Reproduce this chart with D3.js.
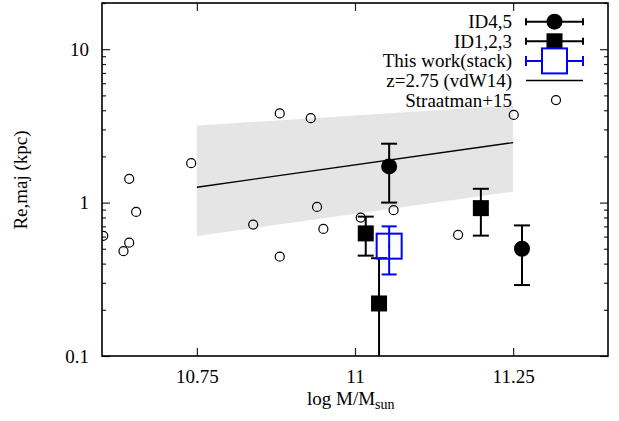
<!DOCTYPE html>
<html>
<head>
<meta charset="utf-8">
<script src="https://cdn.jsdelivr.net/npm/d3@7"></script>
<style>
  html, body { margin: 0; padding: 0; background: #fff; }
  svg { display: block; }
  text { font-family: "Liberation Serif", "Times New Roman", "DejaVu Serif", serif; fill: #000; }
</style>
</head>
<body>
<svg id="chart" width="619" height="421"></svg>
<script>
// Straatman+15 compact galaxies (log stellar mass, Re along the major axis in kpc)
const straatmanMass = [10.602, 10.634, 10.643, 10.654, 10.643, 10.741, 10.839, 10.881, 10.881, 10.930, 10.940, 10.950, 11.009, 11.061, 11.163, 11.251];
const straatmanRe   = [0.607, 0.482, 0.548, 0.869, 1.428, 1.807, 0.719, 3.81, 0.444, 3.55, 0.937, 0.673, 0.799, 0.892, 0.616, 3.73];

// ID4,5 (filled circles) with upper / lower error limits
const id45Mass = [11.054, 11.264];
const id45Re   = [1.72, 0.50];
const id45Hi   = [2.42, 0.71];
const id45Lo   = [1.00, 0.29];

// ID1,2,3 (filled squares)
const id123Mass = [11.017, 11.038, 11.199];
const id123Re   = [0.63, 0.22, 0.92];
const id123Hi   = [0.81, 0.434, 1.23];
const id123Lo   = [0.451, 0.05, 0.609];

// Stacked measurement
const stackMass = [11.054];
const stackRe   = [0.52];
const stackHi   = [0.70];
const stackLo   = [0.34];

// van der Wel+14 size-mass relation at z=2.75 and its scatter band
const vdwMass  = [10.75, 11.25];
const vdwRe    = [1.26, 2.46];
const vdwUpper = [3.18, 4.3];
const vdwLower = [0.606, 1.18];

// Axis ticks and labels
const xTicks = [10.75, 11, 11.25];
const xTickLabels = ["10.75", "11", "11.25"];
const yMajor = [0.1, 1, 10];
const yTickLabels = ["0.1", "1", "10"];

const legendLabels = ["ID4,5", "ID1,2,3", "This work(stack)", "z=2.75 (vdW14)", "Straatman+15"];

const svg = d3.select("#chart");
const m = { left: 102, right: 608, top: 3, bottom: 356 };
const FONT = 19;
const SERIF = "Liberation Serif, Times New Roman, DejaVu Serif, serif";

const x = d3.scaleLinear().domain([10.6, 11.4]).range([m.left, m.right]);
const y = d3.scaleLog().domain([0.1, 20]).range([m.bottom, m.top]);

svg.append("defs").append("clipPath").attr("id", "plotclip")
  .append("rect").attr("x", m.left).attr("y", m.top)
  .attr("width", m.right - m.left).attr("height", m.bottom - m.top);

const plot = svg.append("g").attr("clip-path", "url(#plotclip)");

// scatter band
const band = vdwMass.map((d, i) => ({ m: d, hi: vdwUpper[i], lo: vdwLower[i] }));
plot.append("path")
  .datum(band)
  .attr("fill", "#e5e5e5")
  .attr("d", d3.area().x(d => x(d.m)).y0(d => y(d.lo)).y1(d => y(d.hi)));

// relation line
plot.append("path")
  .datum(vdwMass.map((d, i) => ({ m: d, r: vdwRe[i] })))
  .attr("fill", "none").attr("stroke", "#000").attr("stroke-width", 1.4)
  .attr("d", d3.line().x(d => x(d.m)).y(d => y(d.r)));

// Straatman+15 open circles
plot.selectAll("circle.str")
  .data(straatmanMass.map((d, i) => ({ m: d, r: straatmanRe[i] })))
  .join("circle").attr("class", "str")
  .attr("cx", d => x(d.m)).attr("cy", d => y(d.r)).attr("r", 4.5)
  .attr("fill", "none").attr("stroke", "#000").attr("stroke-width", 1.2);

function errorBars(g, mass, hi, lo, color, cap, w) {
  mass.forEach((mm, i) => {
    const cx = x(mm);
    g.append("line").attr("x1", cx).attr("x2", cx)
      .attr("y1", y(hi[i])).attr("y2", y(lo[i]))
      .attr("stroke", color).attr("stroke-width", w);
    [hi[i], lo[i]].forEach(v => {
      g.append("line").attr("x1", cx - cap).attr("x2", cx + cap)
        .attr("y1", y(v)).attr("y2", y(v))
        .attr("stroke", color).attr("stroke-width", w);
    });
  });
}

// ID1,2,3
errorBars(plot, id123Mass, id123Hi, id123Lo, "#000", 8, 2);
plot.selectAll("rect.id123")
  .data(id123Mass.map((d, i) => ({ m: d, r: id123Re[i] })))
  .join("rect").attr("class", "id123")
  .attr("x", d => x(d.m) - 8).attr("y", d => y(d.r) - 8)
  .attr("width", 16).attr("height", 16).attr("fill", "#000");

// ID4,5
errorBars(plot, id45Mass, id45Hi, id45Lo, "#000", 8, 2);
plot.selectAll("circle.id45")
  .data(id45Mass.map((d, i) => ({ m: d, r: id45Re[i] })))
  .join("circle").attr("class", "id45")
  .attr("cx", d => x(d.m)).attr("cy", d => y(d.r)).attr("r", 8).attr("fill", "#000");

// stack
const BLUE = "#0000ff";
errorBars(plot, stackMass, stackHi, stackLo, BLUE, 7.5, 2);
plot.selectAll("rect.stack")
  .data(stackMass.map((d, i) => ({ m: d, r: stackRe[i] })))
  .join("rect").attr("class", "stack")
  .attr("x", d => x(d.m) - 12.5).attr("y", d => y(d.r) - 12.5)
  .attr("width", 25).attr("height", 25)
  .attr("fill", "none").attr("stroke", BLUE).attr("stroke-width", 2);
plot.selectAll("circle.stackdot")
  .data(stackMass.map((d, i) => ({ m: d, r: stackRe[i] })))
  .join("circle").attr("class", "stackdot")
  .attr("cx", d => x(d.m)).attr("cy", d => y(d.r)).attr("r", 1).attr("fill", BLUE);

// ---- axes ----
const yMinor = y.ticks().filter(v => !yMajor.some(t => Math.abs(t - v) < 1e-9));
const tickColor = "#222";

function styleAxis(g) {
  g.attr("font-family", SERIF);
  g.select(".domain").remove();
  g.selectAll(".tick line").attr("stroke", tickColor).attr("stroke-width", 1.2);
}

// bottom
svg.append("g").attr("transform", `translate(0,${m.bottom})`)
  .call(d3.axisBottom(x).tickValues(xTicks).tickSize(-8).tickPadding(14)
    .tickFormat((d, i) => xTickLabels[i]))
  .call(styleAxis)
  .call(g => g.selectAll("text").attr("font-size", FONT));
// top
svg.append("g").attr("transform", `translate(0,${m.top})`)
  .call(d3.axisTop(x).tickValues(xTicks).tickSize(-8).tickFormat(""))
  .call(styleAxis);
// left major
svg.append("g").attr("transform", `translate(${m.left},0)`)
  .call(d3.axisLeft(y).tickValues(yMajor).tickSize(-8).tickPadding(13)
    .tickFormat((d, i) => yTickLabels[i]))
  .call(styleAxis)
  .call(g => g.selectAll("text").attr("font-size", FONT));
// left minor
svg.append("g").attr("transform", `translate(${m.left},0)`)
  .call(d3.axisLeft(y).tickValues(yMinor).tickSize(-4).tickFormat(""))
  .call(styleAxis);
// right major / minor
svg.append("g").attr("transform", `translate(${m.right},0)`)
  .call(d3.axisRight(y).tickValues(yMajor).tickSize(-8).tickFormat(""))
  .call(styleAxis);
svg.append("g").attr("transform", `translate(${m.right},0)`)
  .call(d3.axisRight(y).tickValues(yMinor).tickSize(-4).tickFormat(""))
  .call(styleAxis);

// frame
svg.append("rect").attr("x", m.left).attr("y", m.top)
  .attr("width", m.right - m.left).attr("height", m.bottom - m.top)
  .attr("fill", "none").attr("stroke", "#000").attr("stroke-width", 1.6);

// axis titles
const xt = svg.append("text").attr("x", 307).attr("y", 405).attr("font-size", FONT);
xt.append("tspan").text("log M/M");
xt.append("tspan").attr("dy", 4).attr("font-size", 14).text("sun");

svg.append("text")
  .attr("transform", "translate(27,180) rotate(-90)")
  .attr("text-anchor", "middle").attr("font-size", FONT)
  .text("Re,maj (kpc)");

// ---- legend ----
const legend = svg.append("g");
const rowY = i => 21.7 + i * 19.6;
const sx0 = 526, sx1 = 583, scx = 554.5;
legendLabels.forEach((lab, i) => {
  legend.append("text").attr("x", 512).attr("y", rowY(i) + 6.5)
    .attr("text-anchor", "end").attr("font-size", FONT).text(lab);
});
function legendBar(i, color, capH, w) {
  const cy = rowY(i);
  legend.append("line").attr("x1", sx0).attr("x2", sx1).attr("y1", cy).attr("y2", cy)
    .attr("stroke", color).attr("stroke-width", w);
  [sx0, sx1].forEach(xx => legend.append("line").attr("x1", xx).attr("x2", xx)
    .attr("y1", cy - capH / 2).attr("y2", cy + capH / 2)
    .attr("stroke", color).attr("stroke-width", w));
}
legendBar(0, "#000", 7, 2);
legend.append("circle").attr("cx", scx).attr("cy", rowY(0)).attr("r", 8).attr("fill", "#000");
legendBar(1, "#000", 7, 2);
legend.append("rect").attr("x", scx - 8).attr("y", rowY(1) - 8).attr("width", 16).attr("height", 16).attr("fill", "#000");
legendBar(2, BLUE, 10, 2);
legend.append("rect").attr("x", scx - 12.5).attr("y", rowY(2) - 12.5).attr("width", 25).attr("height", 25)
  .attr("fill", "#fff").attr("stroke", BLUE).attr("stroke-width", 2);
legend.append("line").attr("x1", sx0).attr("x2", sx1).attr("y1", rowY(3)).attr("y2", rowY(3))
  .attr("stroke", "#000").attr("stroke-width", 1.4);
legend.append("circle").attr("cx", 556).attr("cy", rowY(4)).attr("r", 4.5)
  .attr("fill", "none").attr("stroke", "#000").attr("stroke-width", 1.2);
</script>
</body>
</html>
